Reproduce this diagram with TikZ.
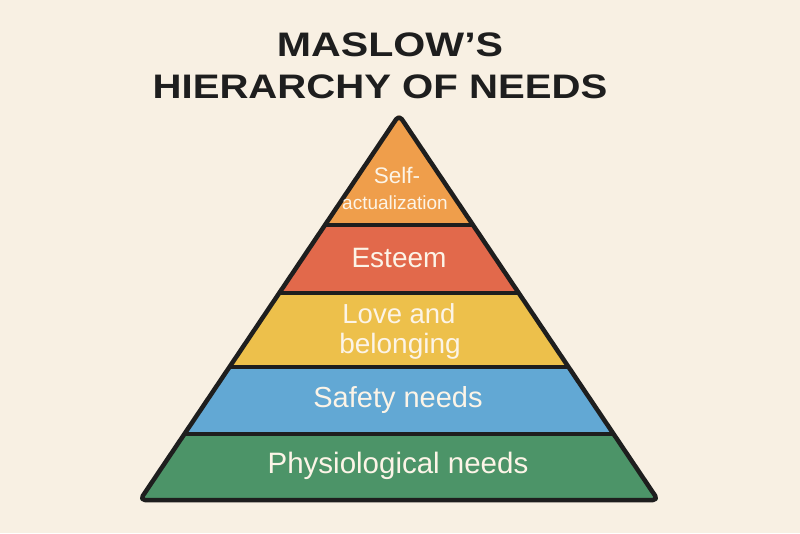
\documentclass[tikz,border=0pt]{standalone}
\usepackage{fontspec}
\usepackage{graphicx}
\setmainfont{Liberation Sans}
\usetikzlibrary{calc}
\definecolor{bg}{HTML}{F8F0E3}
\definecolor{corange}{HTML}{EF9E4B}
\definecolor{cred}{HTML}{E2694B}
\definecolor{cyellow}{HTML}{EDC04B}
\definecolor{cblue}{HTML}{62A8D4}
\definecolor{cgreen}{HTML}{4C9468}
\definecolor{ctext}{HTML}{FCF4E7}
\definecolor{cline}{HTML}{1E1E1E}
\begin{document}
\begin{tikzpicture}[x=1pt,y=-1pt,
  sep/.style={draw=cline,line width=4pt},
  outline/.style={draw=cline,line width=4.5pt,line join=round,rounded corners=5pt},
  lbl/.style={text=ctext,anchor=base,inner sep=0pt,font=\fontsize{28}{30}\selectfont},
  ttl/.style={text=cline,anchor=base,inner sep=0pt,font=\bfseries\fontsize{34}{36}\selectfont}]
\fill[bg] (0,0) rectangle (800,533);
\useasboundingbox (0,0) rectangle (800,533);
\coordinate (A) at (399,115);
\coordinate (L) at (140,500);
\coordinate (R) at (658,500);
\begin{scope}
  \clip (A) -- (L) -- (R) -- cycle;
  \fill[corange] (0,100) rectangle (800,225);
  \fill[cred] (0,225) rectangle (800,293);
  \fill[cyellow] (0,293) rectangle (800,367);
  \fill[cblue] (0,367) rectangle (800,434);
  \fill[cgreen] (0,434) rectangle (800,510);
\end{scope}
\coordinate (l1) at ($(A)!0.2857!(L)$); \coordinate (r1) at ($(A)!0.2857!(R)$);
\coordinate (l2) at ($(A)!0.4623!(L)$); \coordinate (r2) at ($(A)!0.4623!(R)$);
\coordinate (l3) at ($(A)!0.6545!(L)$); \coordinate (r3) at ($(A)!0.6545!(R)$);
\coordinate (l4) at ($(A)!0.8286!(L)$); \coordinate (r4) at ($(A)!0.8286!(R)$);
\draw[sep] (l1) -- (r1);
\draw[sep] (l2) -- (r2);
\draw[sep] (l3) -- (r3);
\draw[sep] (l4) -- (r4);
\draw[outline] (A) -- (L) -- (R) -- cycle;
\node[ttl] (t1) at (390,56) {\scalebox{1.21}[1]{MASLOW’S}};
\node[ttl] (t2) at (380,98) {\scalebox{1.18}[1]{HIERARCHY OF NEEDS}};
\node[lbl,font=\fontsize{22.5}{24}\selectfont] (s1) at (397,183) {Self-};
\node[lbl,font=\fontsize{19}{21}\selectfont] (s2) at (395,209) {actualization};
\node[lbl] (es) at (399,267) {Esteem};
\node[lbl,font=\fontsize{27.5}{30}\selectfont] (lo1) at (399,323) {Love and};
\node[lbl] (lo2) at (400,353) {belonging};
\node[lbl,font=\fontsize{29}{30}\selectfont] (sa) at (398,407) {Safety needs};
\node[lbl,font=\fontsize{29.5}{30}\selectfont] (ph) at (398,473) {Physiological needs};
\end{tikzpicture}
\end{document}
